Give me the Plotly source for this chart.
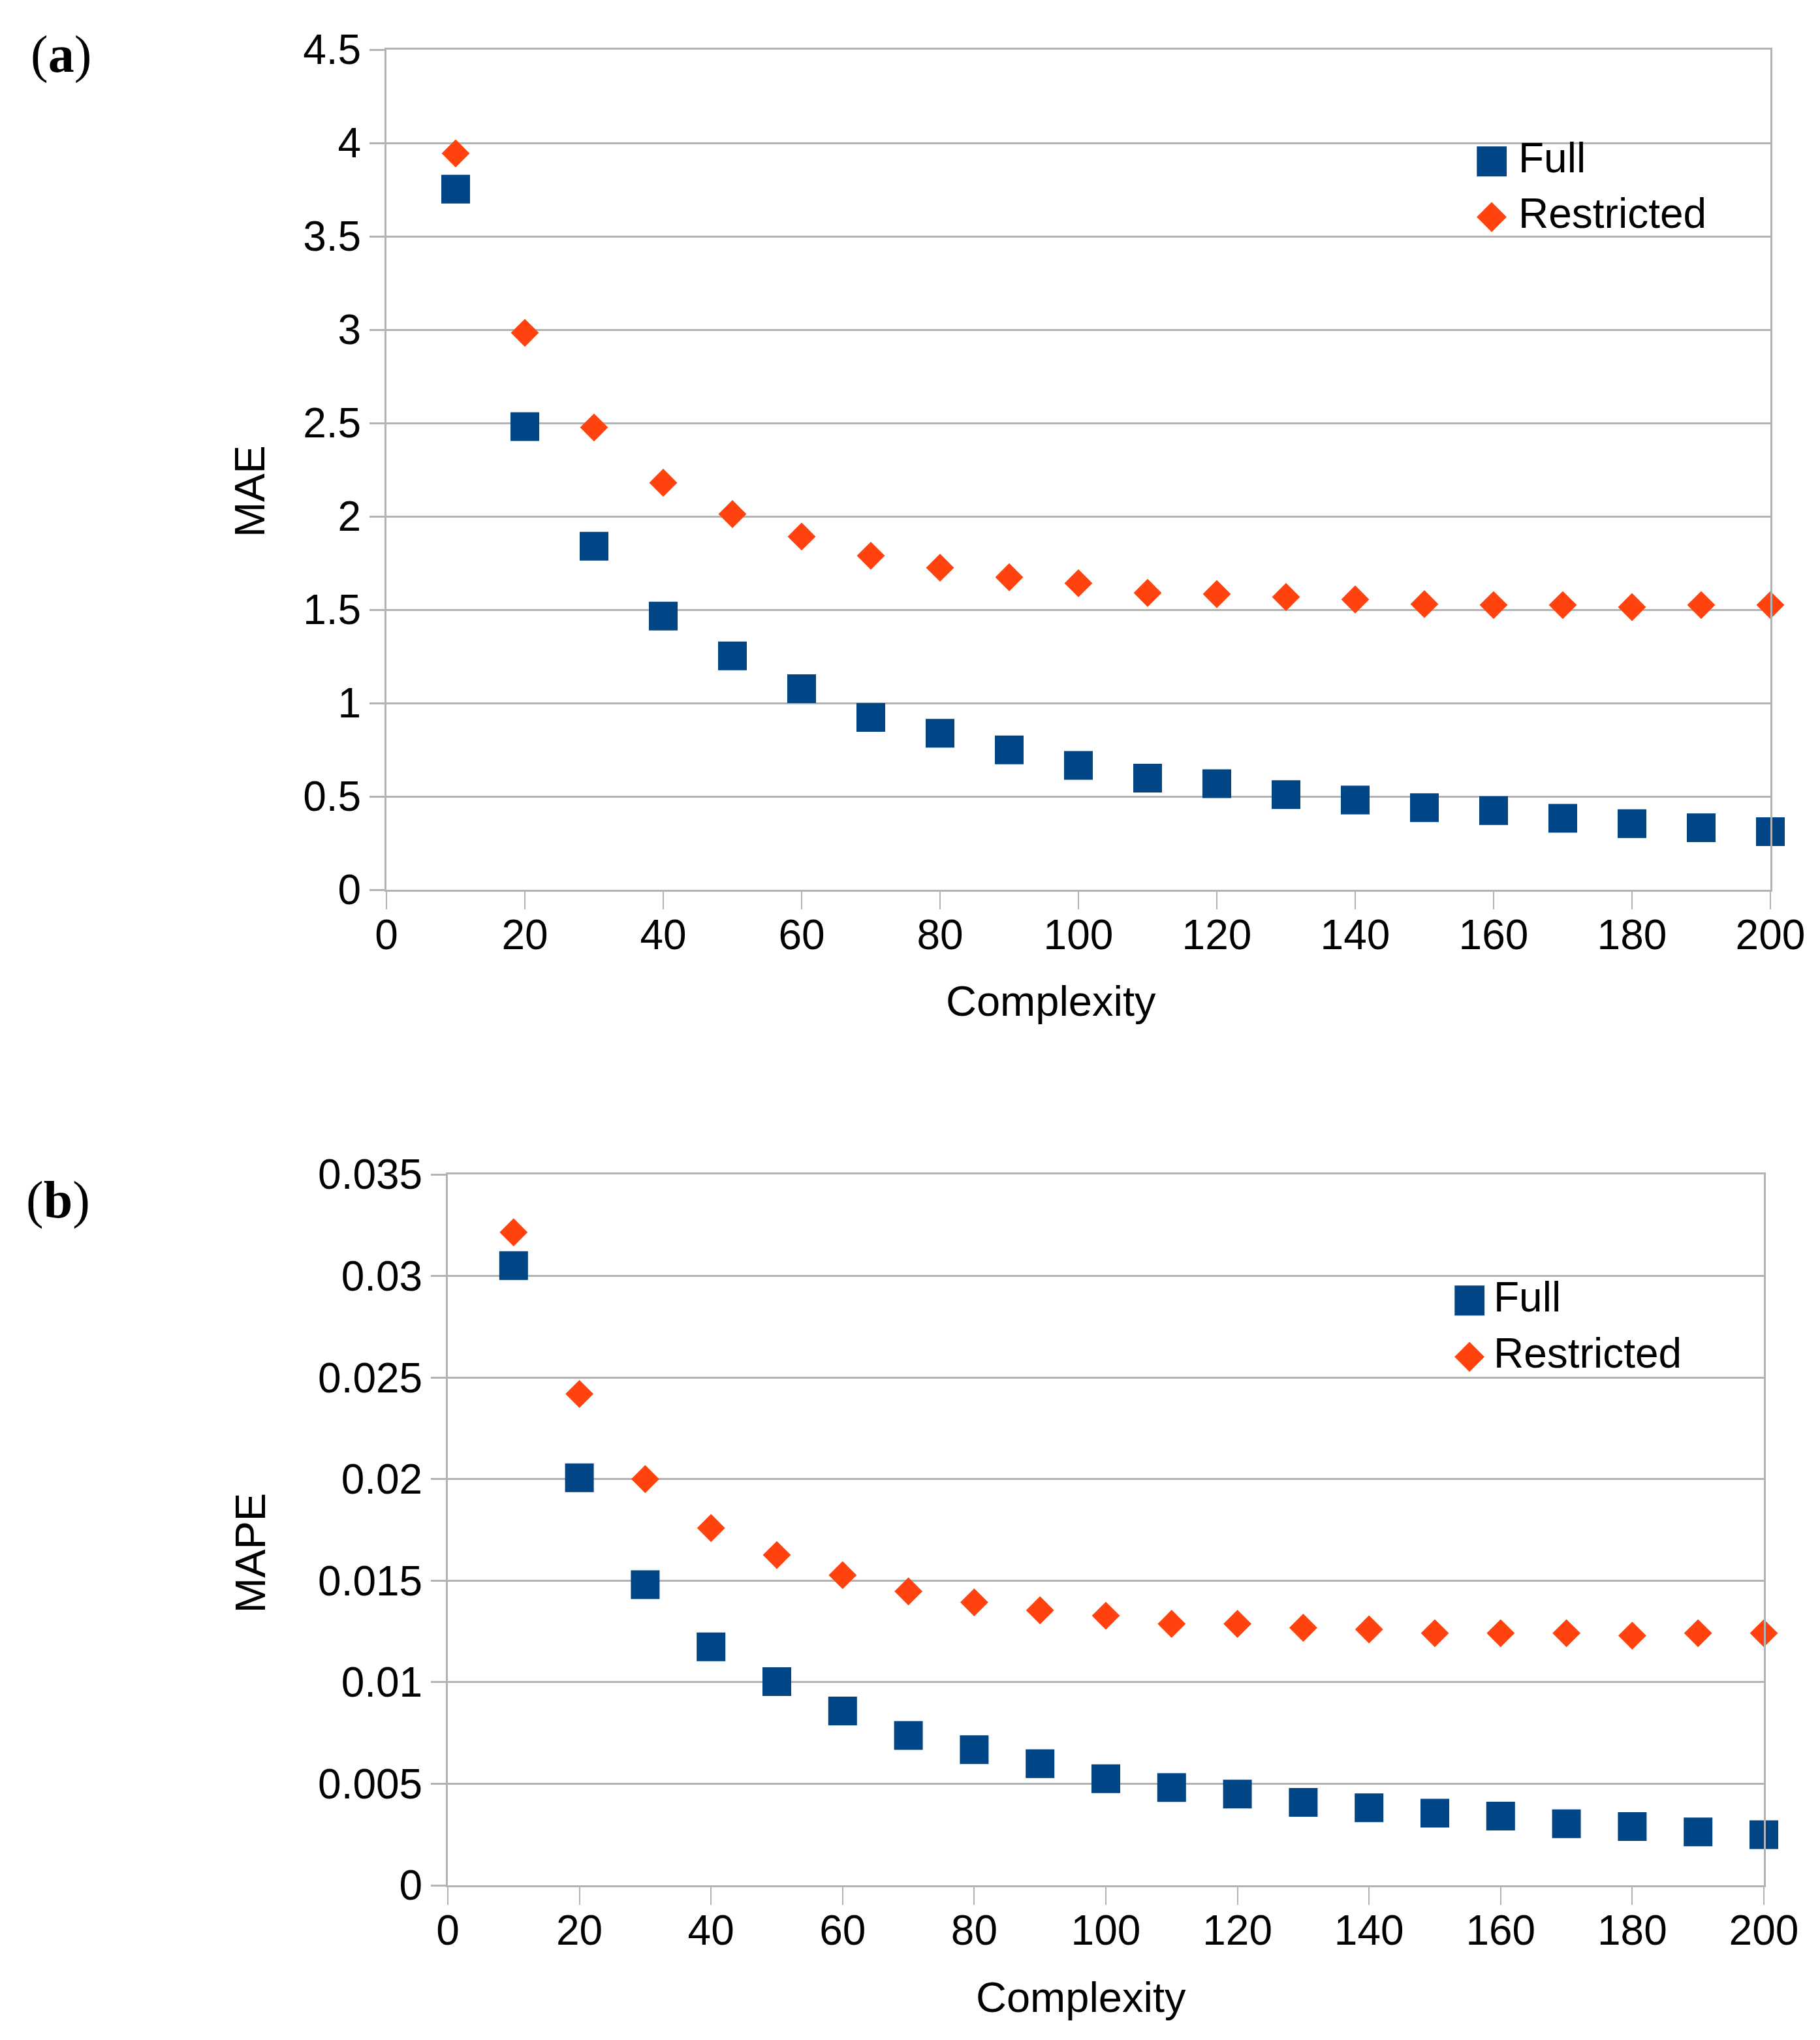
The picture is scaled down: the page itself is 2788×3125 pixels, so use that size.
import plotly.graph_objects as go

complexity = [10, 20, 30, 40, 50, 60, 70, 80, 90, 100,
              110, 120, 130, 140, 150, 160, 170, 180, 190, 200]

mae_full = [3.753, 2.481, 1.840, 1.466, 1.253, 1.077, 0.923, 0.838, 0.749, 0.666,
            0.598, 0.568, 0.510, 0.481, 0.440, 0.424, 0.383, 0.354, 0.332, 0.311]
mae_restricted = [3.944, 2.983, 2.476, 2.180, 2.012, 1.892, 1.789, 1.725, 1.674, 1.642,
                  1.590, 1.584, 1.568, 1.555, 1.530, 1.525, 1.525, 1.514, 1.525, 1.525]

mape_full = [0.03051, 0.02006, 0.01480, 0.01174, 0.01003, 0.00858, 0.00738, 0.00668, 0.00599, 0.00525,
             0.00481, 0.00449, 0.00408, 0.00382, 0.00355, 0.00341, 0.00303, 0.00289, 0.00263, 0.00249]
mape_restricted = [0.03215, 0.02419, 0.02000, 0.01759, 0.01626, 0.01527, 0.01447, 0.01393, 0.01354, 0.01327,
                   0.01287, 0.01287, 0.01268, 0.01260, 0.01241, 0.01241, 0.01241, 0.01229, 0.01241, 0.01241]

x_ticks = [0, 20, 40, 60, 80, 100, 120, 140, 160, 180, 200]
mae_ticks = [0, 0.5, 1, 1.5, 2, 2.5, 3, 3.5, 4, 4.5]
mae_tick_text = ["0", "0.5", "1", "1.5", "2", "2.5", "3", "3.5", "4", "4.5"]
mape_ticks = [0, 0.005, 0.01, 0.015, 0.02, 0.025, 0.03, 0.035]
mape_tick_text = ["0", "0.005", "0.01", "0.015", "0.02", "0.025", "0.03", "0.035"]

BLUE = "#004586"
ORANGE = "#ff420e"
GRID = "#b3b3b3"
FONT = "Liberation Sans"

W, H = 2788, 3125

def px_x(p):
    return p / W

def px_y(p):
    return 1 - p / H

fig = go.Figure()

sq = dict(symbol="square", size=44, color=BLUE, line=dict(width=0))
dm = dict(symbol="diamond", size=33, color=ORANGE, line=dict(width=0))

fig.add_trace(go.Scatter(x=complexity, y=mae_full, mode="markers", name="Full",
                         marker=sq, xaxis="x", yaxis="y", cliponaxis=False, showlegend=False))
fig.add_trace(go.Scatter(x=complexity, y=mae_restricted, mode="markers", name="Restricted",
                         marker=dm, xaxis="x", yaxis="y", cliponaxis=False, showlegend=False))
fig.add_trace(go.Scatter(x=complexity, y=mape_full, mode="markers", name="Full",
                         marker=sq, xaxis="x2", yaxis="y2", cliponaxis=False, showlegend=False))
fig.add_trace(go.Scatter(x=complexity, y=mape_restricted, mode="markers", name="Restricted",
                         marker=dm, xaxis="x2", yaxis="y2", cliponaxis=False, showlegend=False))

tickfont = dict(family=FONT, size=64, color="black")
titlefont = dict(family=FONT, size=65, color="black")

def xaxis_cfg(domain, anchor):
    return dict(domain=domain, anchor=anchor, range=[0, 200], tickvals=x_ticks,
                ticktext=[str(v) for v in x_ticks], automargin=False,
                showgrid=False, zeroline=False, showline=True, mirror=True,
                linecolor=GRID, linewidth=3, ticks="outside", ticklen=27,
                tickwidth=2, tickcolor=GRID, tickfont=tickfont,
                ticklabelstandoff=-16)

def yaxis_cfg(domain, anchor, rng, tv, tt):
    return dict(domain=domain, anchor=anchor, range=rng, tickvals=tv, ticktext=tt,
                automargin=False,
                showgrid=True, gridcolor=GRID, gridwidth=3, zeroline=False,
                showline=True, mirror=True, linecolor=GRID, linewidth=3,
                ticks="outside", ticklen=23, tickwidth=3, tickcolor=GRID,
                tickfont=tickfont)

fig.update_layout(
    width=W, height=H,
    margin=dict(l=0, r=0, t=0, b=0, autoexpand=False),
    paper_bgcolor="white", plot_bgcolor="white",
    xaxis=xaxis_cfg([px_x(592), px_x(2712)], "y"),
    yaxis=yaxis_cfg([px_y(1363), px_y(76)], "x", [0, 4.5], mae_ticks, mae_tick_text),
    xaxis2=xaxis_cfg([px_x(686), px_x(2702)], "y2"),
    yaxis2=yaxis_cfg([px_y(2888), px_y(1799)], "x2", [0, 0.035], mape_ticks, mape_tick_text),
)

annotations = []
# panel labels
for txt, xp, yp in [("(<b>a</b>)", 93, 83), ("(<b>b</b>)", 89, 1838)]:
    annotations.append(dict(text=txt, x=px_x(xp), y=px_y(yp), xref="paper", yref="paper",
                            xanchor="center", yanchor="middle", showarrow=False,
                            font=dict(family="Liberation Serif", size=80, color="black")))

# axis titles
for txt, xp, yp, ang in [("Complexity", 1610, 1533, 0), ("Complexity", 1656, 3059, 0),
                         ("MAE", 383, 752, -90), ("MAPE", 383, 2379, -90)]:
    annotations.append(dict(text=txt, x=px_x(xp), y=px_y(yp), xref="paper", yref="paper",
                            xanchor="center", yanchor="middle", showarrow=False,
                            textangle=ang, font=titlefont))

# legends
for (mx, y_full, y_res, tx) in [(2285, 242, 327, 2324), (2251, 1987, 2073, 2286)]:
    annotations.append(dict(text="■", x=px_x(mx), y=px_y(y_full), xref="paper", yref="paper",
                            xanchor="center", yanchor="middle", showarrow=False,
                            font=dict(family="DejaVu Sans", size=60, color=BLUE)))
    annotations.append(dict(text="◆", x=px_x(mx), y=px_y(y_res), xref="paper", yref="paper",
                            xanchor="center", yanchor="middle", showarrow=False,
                            font=dict(family="DejaVu Sans", size=60, color=ORANGE)))
    annotations.append(dict(text="Full", x=px_x(tx), y=px_y(y_full), xref="paper", yref="paper",
                            xanchor="left", yanchor="middle", showarrow=False,
                            font=dict(family=FONT, size=64, color="black")))
    annotations.append(dict(text="Restricted", x=px_x(tx), y=px_y(y_res), xref="paper", yref="paper",
                            xanchor="left", yanchor="middle", showarrow=False,
                            font=dict(family=FONT, size=64, color="black")))

fig.update_layout(annotations=annotations)

fig.write_html("out.html")
